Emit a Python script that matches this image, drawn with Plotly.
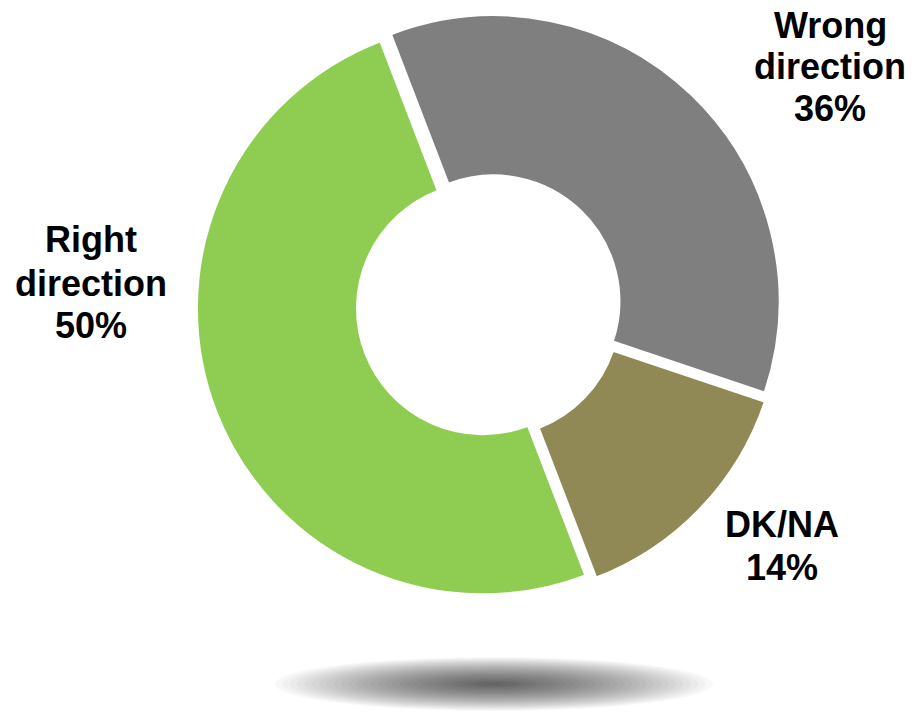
import plotly.graph_objects as go

# ---- data ----
labels = ["Wrong direction", "DK/NA", "Right direction"]
label_lines = [["Wrong", "direction"], ["DK/NA"], ["Right", "direction"]]
values = [36, 14, 50]
colors = ["#7F7F7F", "#918955", "#8FCD52"]

W, H = 918, 712

# pie geometry (pixels)
cx, cy, R, pull = 489, 306, 286, 0.023
half = R * (1 + pull)

fig = go.Figure()
fig.add_trace(go.Pie(
    labels=labels,
    values=values,
    sort=False,
    direction="clockwise",
    rotation=-21,
    hole=0.44,
    pull=[pull] * len(values),
    marker=dict(colors=colors, line=dict(color="white", width=2)),
    textinfo="none",
    hoverinfo="label+percent",
    showlegend=False,
    domain=dict(x=[(cx - half) / W, (cx + half) / W],
                y=[1 - (cy + half) / H, 1 - (cy - half) / H]),
))

# label text positions (pixel centers of each line)
label_pos = [
    (830, [25, 67, 109]),
    (782, [524, 567]),
    (91, [240, 283, 325]),
]
annotations = []
for lines, v, (lx, ys) in zip(label_lines, values, label_pos):
    texts = lines + [f"{v}%"]
    for t, ly in zip(texts, ys):
        annotations.append(dict(
            x=lx / W, y=1 - ly / H, xref="paper", yref="paper",
            text=f"<b>{t}</b>", showarrow=False,
            xanchor="center", yanchor="middle",
            font=dict(family="Arial, Liberation Sans, sans-serif", size=36, color="#000000"),
        ))

# soft shadow under the donut (radial gradient by stacked ellipses)
shapes = []
scx, scy, srx, sry = 494, 684, 219, 27
n = 30
for i in range(n):
    f = 1 - i / n
    shapes.append(dict(
        type="circle", xref="paper", yref="paper", layer="below",
        x0=(scx - srx * f) / W, x1=(scx + srx * f) / W,
        y0=1 - (scy + sry * f) / H, y1=1 - (scy - sry * f) / H,
        fillcolor="rgba(0,0,0,0.026)", line=dict(width=0),
    ))

fig.update_layout(
    width=W, height=H,
    margin=dict(l=0, r=0, t=0, b=0),
    paper_bgcolor="white", plot_bgcolor="white",
    annotations=annotations,
    shapes=shapes,
)

fig.write_html(
    "out.html",
    config={"displayModeBar": False},
    post_script="document.body.style.margin='0';document.body.style.overflow='hidden';",
)
